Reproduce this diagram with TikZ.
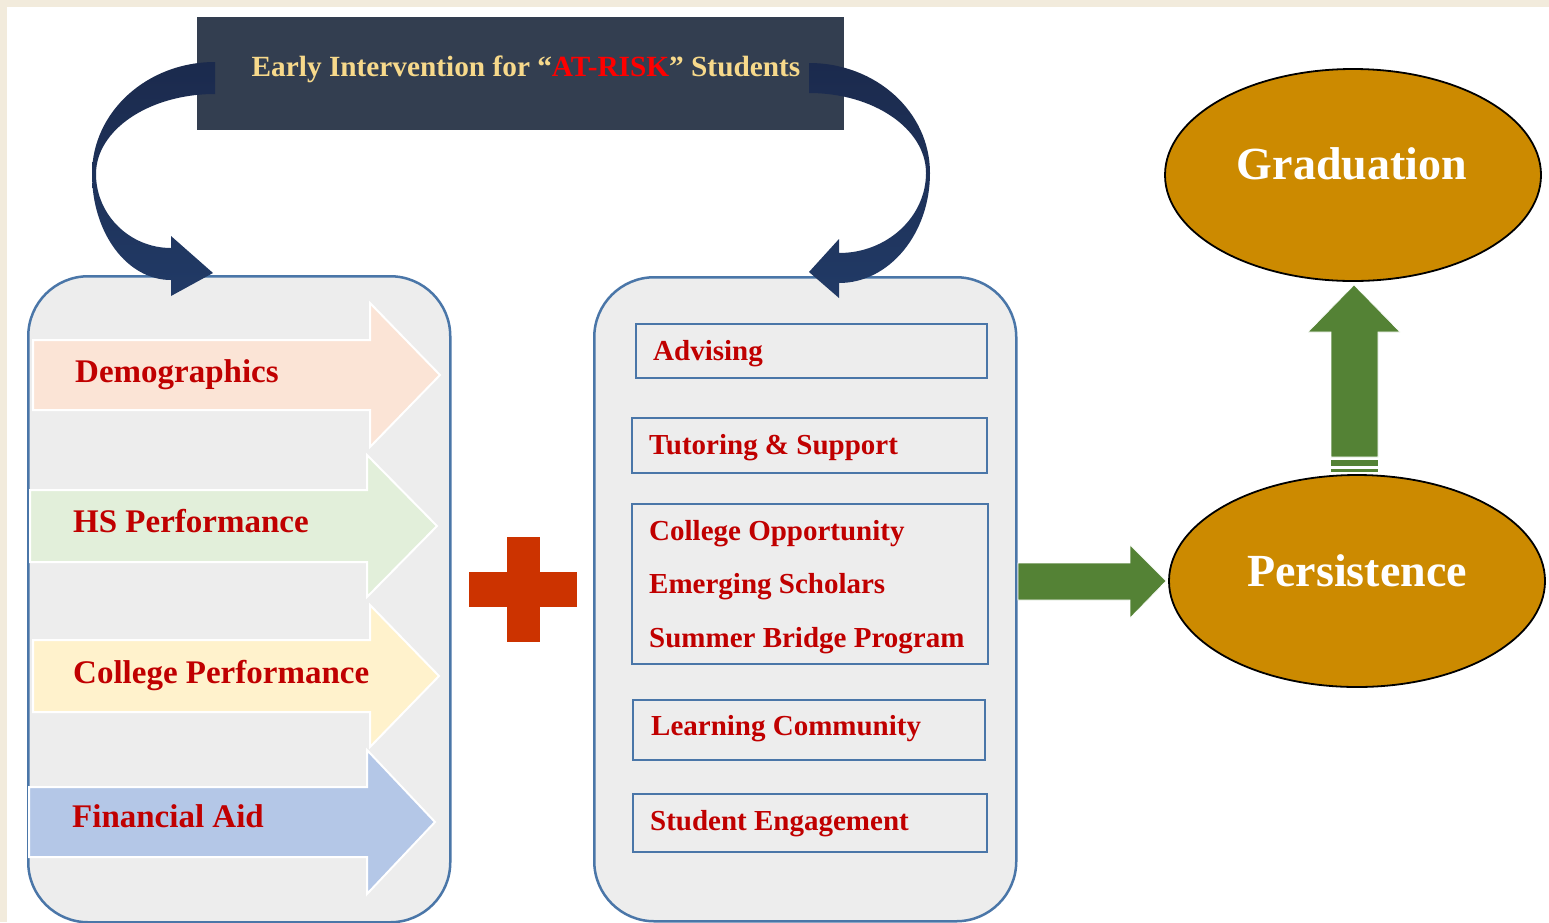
\documentclass[tikz,border=0pt]{standalone}
\usepackage{fontspec}
\setmainfont{Liberation Serif}
\usetikzlibrary{shapes.geometric}
\definecolor{beige}{HTML}{F2EBDC}
\definecolor{navybox}{HTML}{333E50}
\definecolor{navytop}{HTML}{1B2A4D}
\definecolor{navybottom}{HTML}{213A66}
\definecolor{gold}{HTML}{F7D98B}
\definecolor{darkred}{HTML}{C00000}
\definecolor{panelfill}{HTML}{EDEDED}
\definecolor{panelline}{HTML}{4A76A8}
\definecolor{ochre}{HTML}{CC8A00}
\definecolor{leaf}{HTML}{548235}
\definecolor{crossred}{HTML}{CC3300}
\definecolor{peach}{HTML}{FBE4D6}
\definecolor{mint}{HTML}{E2EFDA}
\definecolor{cream}{HTML}{FFF2CC}
\definecolor{sky}{HTML}{B4C7E7}
\tikzset{
  panel/.style={draw=panelline, line width=2.5pt, fill=panelfill, rounded corners=60pt},
  itembox/.style={draw=panelline, line width=2pt},
  blockarrow/.style={draw=white, line width=2pt, fill=#1},
  leftlabel/.style={anchor=base west, inner sep=0pt, text=darkred, font=\fontsize{33}{40}\selectfont\bfseries},
  midlabel/.style={anchor=base west, inner sep=0pt, text=darkred, font=\fontsize{29}{35}\selectfont\bfseries},
  ovalnode/.style={ellipse, draw=black, line width=1.8pt, fill=ochre, inner sep=0pt},
  ovallabel/.style={anchor=base, inner sep=0pt, text=white, font=\fontsize{46}{55}\selectfont\bfseries},
  greenarrow/.style={fill=leaf, draw=white, line width=0.6pt},
  curvearrow/.style={top color=navytop, bottom color=navybottom, draw=none}
}
\newcommand{\blockarr}[7]{%
  \draw[blockarrow=#7] (#1,{#4-#5}) -- (#2,{#4-#5}) -- (#2,{#4-#6}) -- (#3,#4)
    -- (#2,{#4+#6}) -- (#2,{#4+#5}) -- (#1,{#4+#5}) -- cycle;}
\begin{document}
\begin{tikzpicture}[x=1pt,y=-1pt]
\useasboundingbox (0,0) rectangle (1549,922);
\fill[beige] (0,0) rectangle (1549,922);
\fill[white] (7,7) rectangle (1549,922);

% containers
\node[panel, minimum width=422pt, minimum height=646pt, anchor=north west] (leftpanel) at (27,275) {};
\node[panel, minimum width=422pt, minimum height=644pt, anchor=north west] (midpanel) at (593,276) {};

% block arrows
\blockarr{33}{370}{440}{375}{35}{72}{peach}
\blockarr{30}{367}{437}{526}{36}{71}{mint}
\blockarr{33}{370}{439}{676}{36}{71}{cream}
\blockarr{29}{367}{435}{822}{35}{72}{sky}
\node[leftlabel] (demo) at (75,382) {Demographics};
\node[leftlabel] (hs) at (73,532) {HS Performance};
\node[leftlabel] (cp) at (73,683) {College Performance};
\node[leftlabel] (fa) at (72,827) {Financial Aid};

% plus sign
\fill[crossred] (507,537) rectangle (540,642);
\fill[crossred] (469,572) rectangle (577,607);

% middle item boxes
\draw[itembox] (636,324) rectangle (987,378);
\draw[itembox] (632,418) rectangle (987,473);
\draw[itembox] (632,504) rectangle (988,664);
\draw[itembox] (633,700) rectangle (985,760);
\draw[itembox] (633,794) rectangle (987,852);
\node[midlabel] (adv) at (653,360) {Advising};
\node[midlabel] (tut) at (649,454) {Tutoring \& Support};
\node[midlabel] (cop) at (649,540) {College Opportunity};
\node[midlabel] (ems) at (649,593) {Emerging Scholars};
\node[midlabel] (sbp) at (649,647) {Summer Bridge Program};
\node[midlabel] (lc) at (651,735) {Learning Community};
\node[midlabel] (se) at (650,830) {Student Engagement};

% title box
\fill[navybox] (197,17) rectangle (844,130);
\node[anchor=base, inner sep=0pt, text=gold, font=\fontsize{29.3}{35}\selectfont\bfseries] (title) at (526,76)
  {Early Intervention for “\textcolor{red}{AT-RISK}” Students};

% curved arrows
\path[curvearrow] (215,62) .. controls (147,62) and (92,112) .. (92,174)
  .. controls (92,233) and (127,280) .. (171,280)
  -- (171,296) -- (213,273) -- (171,236) -- (171,248)
  .. controls (130,248) and (96,215) .. (96,174)
  .. controls (96,130) and (149,94) .. (215,94) -- cycle;
\path[curvearrow] (809,63) .. controls (876,63) and (930,112) .. (930,173)
  .. controls (930,234) and (889,283) .. (839,283)
  -- (839,298) -- (809,272) -- (839,239) -- (839,253)
  .. controls (887,253) and (926,217) .. (926,173)
  .. controls (926,129) and (874,93) .. (809,93) -- cycle;

% ovals
\node[ovalnode, minimum width=376pt, minimum height=212pt] (grad) at (1353,175) {};
\node[ovallabel] (gradtxt) at (1352,179) {Graduation};
\node[ovalnode, minimum width=376pt, minimum height=212pt] (pers) at (1357,581) {};
\node[ovallabel] (perstxt) at (1357,586) {Persistence};

% green arrows
\draw[greenarrow] (1018,563) -- (1130,563) -- (1130,545) -- (1166,581) -- (1130,618) -- (1130,600) -- (1018,600) -- cycle;
\draw[greenarrow] (1331,457) -- (1331,332) -- (1308,332) -- (1354,285) -- (1400,332) -- (1378,332) -- (1378,457) -- cycle;
\fill[leaf] (1331,460) rectangle (1378,466);
\fill[leaf] (1331,469) rectangle (1378,472);
\end{tikzpicture}
\end{document}
